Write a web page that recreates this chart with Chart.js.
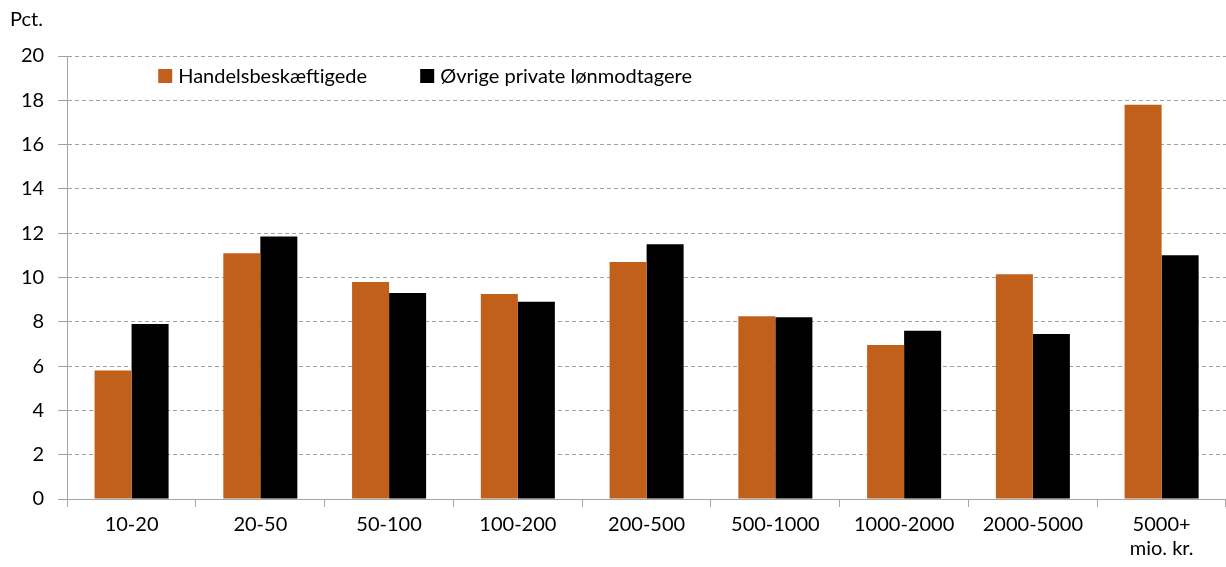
<!DOCTYPE html>
<html lang="da">
<head>
    <meta charset="UTF-8">
    <script src="https://cdn.jsdelivr.net/npm/chart.js"></script>
    <title>Handelsbeskæftigede</title>
    <style>
        body {
          margin: 0;
          background: #fff;
        }
        #wrap {
          width: 1226px;
          height: 567px;
        }
    </style>
</head>
<body>
    <div id="wrap">
        <canvas id="myChart"></canvas>
    </div>

    <script>
        // Data
        const kategorier = ['10-20', '20-50', '50-100', '100-200', '200-500', '500-1000', '1000-2000', '2000-5000', ['5000+', 'mio. kr.']];
        const handel = [5.8, 11.1, 9.8, 9.25, 10.7, 8.25, 6.95, 10.15, 17.8];
        const oevrige = [7.9, 11.85, 9.3, 8.9, 11.5, 8.2, 7.6, 7.45, 11.0];
        const serieNavne = ['Handelsbeskæftigede', 'Øvrige private lønmodtagere'];
        const farver = ['#C0601B', '#000000'];
        const yTicks = [0, 2, 4, 6, 8, 10, 12, 14, 16, 18, 20];
        const enhed = 'Pct.';

        const fontFamily = 'Lato, "Open Sans", sans-serif';

        // Legende inde i plotområdet + enhed over y-aksen
        const legendePlugin = {
            id: 'legende',
            afterDraw(chart) {
                const ctx = chart.ctx;
                const area = chart.chartArea;
                const xs = [area.left + 91, area.left + 353];
                const y = 76;
                ctx.save();
                ctx.font = '20px ' + fontFamily;
                ctx.textBaseline = 'middle';
                chart.data.datasets.forEach((ds, i) => {
                    ctx.fillStyle = ds.backgroundColor;
                    ctx.fillRect(xs[i], y - 7, 14, 14);
                    ctx.fillStyle = '#000';
                    ctx.fillText(ds.label, xs[i] + 20, y + 1);
                });
                ctx.fillText(enhed, 10, 20);
                ctx.restore();
            }
        };

        new Chart(document.getElementById('myChart'), {
            type: 'bar',
            data: {
                labels: kategorier,
                datasets: [{
                    label: serieNavne[0],
                    data: handel,
                    backgroundColor: farver[0]
                }, {
                    label: serieNavne[1],
                    data: oevrige,
                    backgroundColor: farver[1]
                }]
            },
            options: {
                responsive: true,
                maintainAspectRatio: false,
                animation: false,
                layout: {
                    padding: { left: 7, right: 0, top: 56, bottom: 0 }
                },
                datasets: {
                    bar: {
                        categoryPercentage: 0.575,
                        barPercentage: 1
                    }
                },
                plugins: {
                    legend: { display: false },
                    tooltip: { enabled: false }
                },
                scales: {
                    x: {
                        grid: {
                            offset: true,
                            drawOnChartArea: false,
                            drawTicks: true,
                            tickLength: 8,
                            color: '#a6a6a6'
                        },
                        border: { color: '#a6a6a6' },
                        ticks: {
                            color: '#000',
                            padding: 6,
                            maxRotation: 0,
                            font: { family: fontFamily, size: 20, lineHeight: 1.2 }
                        }
                    },
                    y: {
                        min: 0,
                        max: 20,
                        afterBuildTicks(axis) {
                            axis.ticks = yTicks.map(v => ({ value: v }));
                        },
                        grid: {
                            color: '#a0a0a0',
                            tickLength: 9,
                            tickBorderDash: [],
                            tickColor: '#a0a0a0'
                        },
                        border: { color: '#a6a6a6', dash: [4, 3] },
                        ticks: {
                            color: '#000',
                            padding: 14,
                            font: { family: fontFamily, size: 20 }
                        }
                    }
                }
            },
            plugins: [legendePlugin]
        });
    </script>
</body>
</html>
